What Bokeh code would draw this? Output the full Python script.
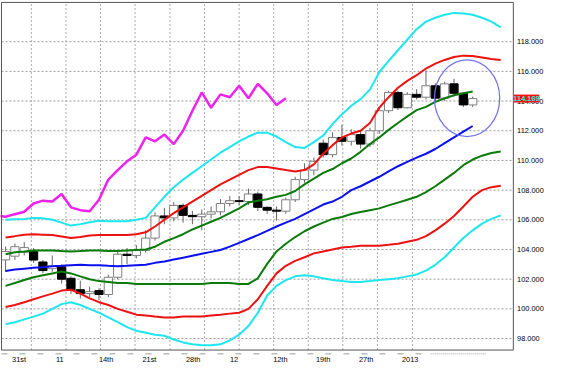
from bokeh.plotting import figure
from bokeh.models import Range1d
from bokeh.core.properties import value
from bokeh.embed import file_html
from bokeh.resources import INLINE

# ---- candles (O, H, L, C) ----
opens = [103.3, 103.55, 103.81, 103.87, 103.16, 102.71, 102.84, 102.06, 101.29, 101.03,
         101.23, 100.97, 102.13, 103.68, 103.6, 103.94, 104.77, 106.26, 106.13, 106.97,
         106.3, 106.21, 106.38, 106.54, 107.10, 107.29, 107.23, 107.74, 106.84, 106.65,
         106.58, 107.35, 108.71, 109.35, 111.16, 110.39, 111.55, 111.29, 111.74, 111.10,
         112.0, 113.35, 114.58, 113.55, 114.45, 114.26, 115.03, 114.19, 115.16, 114.52,
         113.74]
highs = [104.2, 104.4, 104.5, 104.1, 103.3, 103.6, 103.0, 102.2, 101.9, 101.5,
         101.4, 102.3, 103.9, 104.1, 104.3, 105.3, 106.5, 106.8, 107.2, 107.1,
         106.6, 106.7, 106.9, 107.4, 107.6, 107.6, 108.1, 107.9, 106.9, 106.9,
         107.5, 108.9, 109.8, 110.2, 111.4, 111.9, 112.4, 112.1, 112.0, 112.2,
         113.6, 114.7, 114.7, 114.6, 114.8, 116.06, 115.2, 115.3, 115.5, 114.6,
         114.3]
lows = [102.5, 103.3, 103.6, 103.1, 102.4, 102.5, 101.7, 101.0, 100.7, 100.8,
        100.6, 100.8, 102.0, 103.0, 103.4, 103.8, 104.6, 105.7, 105.9, 105.8,
        105.7, 105.3, 106.1, 106.3, 106.9, 107.0, 107.0, 106.6, 106.4, 105.95,
        106.4, 107.2, 108.5, 109.0, 110.2, 110.2, 111.0, 111.0, 110.8, 110.9,
        111.8, 113.2, 113.4, 113.5, 114.1, 114.1, 113.9, 114.0, 114.3, 113.6,
        113.6]
closes = [103.87, 104.19, 104.13, 103.29, 102.58, 102.9, 102.0, 101.29, 101.03, 101.16,
          100.97, 102.13, 103.68, 103.6, 103.94, 104.77, 106.26, 106.13, 106.97, 106.3,
          106.21, 106.38, 106.54, 107.10, 107.29, 107.23, 107.74, 106.84, 106.65, 106.58,
          107.35, 108.71, 109.35, 109.94, 110.39, 111.55, 111.29, 111.74, 111.10, 112.0,
          113.35, 114.58, 113.55, 114.45, 114.26, 115.03, 114.19, 115.16, 114.52, 113.74,
          114.17]

# ---- bands ----
cyan_up = [106.00, 106.03, 106.06, 106.13, 106.10, 106.00, 105.81, 105.61, 105.71, 105.84,
           105.94, 105.90, 105.90, 105.90, 106.00, 106.13, 106.84, 107.55, 108.19, 108.71,
           109.16, 109.61, 110.06, 110.52, 110.90, 111.29, 111.61, 111.87, 111.87, 111.61,
           111.23, 110.90, 110.84, 111.23, 111.68, 112.45, 113.10, 113.68, 114.13, 114.77,
           115.94, 116.71, 117.42, 118.13, 118.84, 119.35, 119.61, 119.81, 119.94, 119.90,
           119.81, 119.61, 119.35, 118.97]
red_up = [104.81, 104.90, 105.00, 105.03, 105.00, 104.97, 104.87, 104.77, 104.84, 104.94,
          104.97, 104.97, 104.97, 104.97, 105.03, 105.16, 105.55, 106.00, 106.45, 106.84,
          107.23, 107.61, 108.00, 108.39, 108.71, 109.03, 109.35, 109.55, 109.55, 109.45,
          109.35, 109.26, 109.35, 109.74, 110.45, 111.03, 111.55, 111.81, 112.00, 112.52,
          113.55, 114.26, 114.90, 115.36, 115.74, 116.19, 116.52, 116.77, 116.97, 117.06,
          117.03, 116.94, 116.84, 116.77]
green_up = [103.68, 103.81, 103.87, 103.94, 103.94, 103.94, 103.90, 103.87, 103.90, 103.94,
            103.94, 103.90, 103.90, 103.94, 103.97, 104.00, 104.19, 104.52, 104.77, 105.03,
            105.35, 105.61, 105.87, 106.13, 106.45, 106.77, 107.16, 107.29, 107.39, 107.55,
            107.68, 107.94, 108.39, 108.77, 109.16, 109.42, 109.81, 110.13, 110.58, 111.10,
            111.55, 112.06, 112.52, 112.97, 113.39, 113.61, 113.94, 114.19, 114.39, 114.52,
            114.65]
middle = [102.55, 102.65, 102.71, 102.77, 102.81, 102.87, 102.90, 102.94, 102.97, 102.94,
          102.94, 102.90, 102.87, 102.90, 102.94, 102.97, 103.10, 103.19, 103.32, 103.45,
          103.58, 103.71, 103.84, 103.97, 104.19, 104.45, 104.71, 104.97, 105.26, 105.55,
          105.81, 106.06, 106.39, 106.71, 107.03, 107.23, 107.55, 108.00, 108.26, 108.58,
          108.90, 109.26, 109.61, 109.90, 110.19, 110.45, 110.77, 111.16, 111.55, 111.94,
          112.32]
green_dn = [101.55, 101.74, 101.94, 102.13, 102.26, 102.39, 102.52, 102.39, 102.19, 102.00,
            101.87, 101.81, 101.74, 101.74, 101.68, 101.68, 101.68, 101.68, 101.68, 101.68,
            101.68, 101.68, 101.74, 101.74, 101.74, 101.68, 101.68, 102.06, 103.03, 103.87,
            104.39, 104.84, 105.23, 105.55, 105.81, 106.06, 106.19, 106.39, 106.52, 106.65,
            106.77, 106.97, 107.16, 107.35, 107.55, 107.87, 108.26, 108.71, 109.16, 109.68,
            110.06, 110.32, 110.50, 110.60]
red_dn = [100.13, 100.26, 100.45, 100.65, 100.84, 101.03, 101.23, 101.29, 101.03, 100.71,
          100.45, 100.26, 100.00, 99.81, 99.61, 99.55, 99.48, 99.42, 99.42, 99.48,
          99.48, 99.48, 99.55, 99.61, 99.68, 99.74, 100.00, 100.65, 101.55, 102.39,
          102.90, 103.23, 103.48, 103.74, 103.87, 104.00, 104.13, 104.19, 104.26, 104.26,
          104.26, 104.32, 104.39, 104.52, 104.65, 104.90, 105.29, 105.74, 106.26, 106.90,
          107.55, 108.00, 108.20, 108.30]
cyan_dn = [98.97, 99.10, 99.29, 99.48, 99.68, 100.00, 100.32, 100.45, 100.26, 100.00,
           99.74, 99.42, 99.10, 98.77, 98.52, 98.39, 98.26, 98.19, 97.94, 97.74,
           97.61, 97.55, 97.55, 97.61, 97.87, 98.26, 98.84, 99.74, 100.90, 101.55,
           101.94, 102.19, 102.26, 102.19, 102.06, 101.94, 101.87, 101.81, 101.81, 101.87,
           101.94, 102.00, 102.06, 102.19, 102.32, 102.58, 102.97, 103.48, 104.13, 104.77,
           105.29, 105.74, 106.06, 106.30]

# lagging close line (starts one bar before the first candle)
lag_start = -1
lagging = [106.3, 106.21, 106.38, 106.54, 107.10, 107.29, 107.23, 107.74, 106.84, 106.65,
           106.58, 107.35, 108.71, 109.35, 109.94, 110.39, 111.55, 111.29, 111.74, 111.10,
           112.0, 113.35, 114.58, 113.55, 114.45, 114.26, 115.03, 114.19, 115.16, 114.52,
           113.74, 114.19]

# axis texts
date_labels = ["31st", "11", "14th", "21st", "28th", "12", "12th", "19th", "27th", "2013"]
date_label_pos = [1.44, 5.81, 10.76, 15.4, 20.08, 24.46, 29.41, 33.99, 38.6, 43.31]
y_ticks = [98, 100, 102, 104, 106, 108, 110, 112, 114, 116, 118]
last_price = 114.169

# ---- layout constants (bar / price units) ----
VIEW_X = (-0.542, 57.9)
VIEW_Y = (96.32, 120.774)
BOX_L, BOX_R, BOX_B, BOX_T = -0.4375, 54.35, 97.226, 120.645
vgrid_pos = [2.76, 6.47, 10.16, 13.86, 17.6, 21.3, 25.0, 28.7, 32.4, 36.1, 39.8, 43.55]
YLAB_X = 54.75
XLAB_Y = 96.58
DASH_Y = 96.97
DASH_END = 45.5
DOT_END = 51.5
PRICE_BOX_X, PRICE_BOX_W, PRICE_BOX_H = 55.76, 2.65, 0.47
circle_x, circle_y, circle_w, circle_h = 49.4, 114.19, 6.98, 5.16

FONT = value("Liberation Sans")
FS = value("7.4px")

p = figure(width=546, height=363, x_range=Range1d(*VIEW_X), y_range=Range1d(*VIEW_Y),
           output_backend="svg", toolbar_location=None,
           x_axis_location=None, y_axis_location=None,
           min_border_left=0, min_border_right=0, min_border_top=0, min_border_bottom=0)
p.background_fill_color = "white"
p.border_fill_color = "white"
p.outline_line_color = None
p.grid.visible = False

# grid lines
n = len(y_ticks)
p.segment(x0=[BOX_L] * n, x1=[BOX_R] * n, y0=y_ticks, y1=y_ticks,
          line_color="#9a9a9a", line_dash="2 2", line_width=1)
m = len(vgrid_pos)
p.segment(x0=vgrid_pos, x1=vgrid_pos, y0=[BOX_B] * m, y1=[BOX_T] * m,
          line_color="#a8a8a8", line_dash="2 2", line_width=1)

# candles
idx = list(range(len(closes)))
tops = [max(o, c) for o, c in zip(opens, closes)]
bots = [min(o, c) for o, c in zip(opens, closes)]
fills = ["black" if c < o else "white" for o, c in zip(opens, closes)]
edges = ["black" if c < o else "#808080" for o, c in zip(opens, closes)]
p.segment(x0=idx, y0=lows, x1=idx, y1=highs, line_color="#666666", line_width=1)
p.vbar(x=idx, width=0.88, top=tops, bottom=bots, fill_color=fills, line_color=edges,
       line_width=1)

# bands
def band(vals, color, w=2):
    p.line(x=list(range(len(vals))), y=vals, line_color=color, line_width=w)

band(cyan_up, "#1ee6ee")
band(cyan_dn, "#1ee6ee")
band(red_up, "#ee1111")
band(red_dn, "#ee1111")
band(green_up, "#0a7a0a")
band(green_dn, "#0a7a0a")
band(middle, "#0a10ee")

p.line(x=[lag_start + i for i in range(len(lagging))], y=lagging, line_color="#ee22ee",
       line_width=2.5)

p.ellipse(x=[circle_x], y=[circle_y], width=circle_w, height=circle_h,
          fill_color=None, line_color="#7373ee", line_width=1.3)

# frame box
p.rect(x=[(BOX_L + BOX_R) / 2], y=[(BOX_B + BOX_T) / 2], width=BOX_R - BOX_L,
       height=BOX_T - BOX_B, fill_color=None, line_color="#555555", line_width=1)

# y labels
p.text(x=[YLAB_X] * n, y=y_ticks, text=[f"{t:.3f}" for t in y_ticks],
       text_font=FONT, text_font_size=FS, text_color="black",
       text_baseline="middle", text_align="left")

# date row: dashes and labels
p.line(x=[BOX_L, DASH_END], y=[DASH_Y, DASH_Y], line_color="#9a9a9a", line_width=1,
       line_dash="6 12")
p.line(x=[DASH_END, DOT_END], y=[DASH_Y, DASH_Y], line_color="#9a9a9a", line_width=1,
       line_dash="1 1")
p.text(x=date_label_pos, y=[XLAB_Y] * len(date_labels), text=date_labels,
       text_font=FONT, text_font_size=FS, text_color="black",
       text_baseline="middle", text_align="center")

# last price tag
p.rect(x=[PRICE_BOX_X], y=[last_price], width=PRICE_BOX_W, height=PRICE_BOX_H,
       fill_color="#ff1111", line_color="#ff1111")
p.text(x=[PRICE_BOX_X], y=[last_price], text=[f"{last_price:.3f}"],
       text_font=FONT, text_font_size=FS, text_color="#22eeee", text_font_style="bold",
       text_baseline="middle", text_align="center")

open("out.html", "w").write(file_html(p, INLINE))
